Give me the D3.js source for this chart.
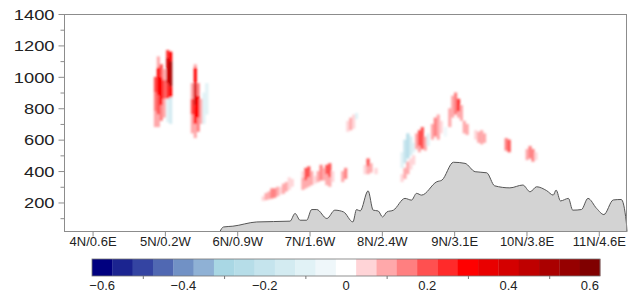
<!DOCTYPE html>
<html>
<head>
<meta charset="utf-8">
<script src="https://cdn.jsdelivr.net/npm/d3@7"></script>
<style>
  body { margin: 0; background: #fff; }
  text { font-family: "Liberation Sans", Arial, sans-serif; fill: #222; }
</style>
</head>
<body>
<svg width="634" height="293"></svg>
<script>
// terrain profile along the section (latitude, height m)
var terrainLat = [5.76, 5.81, 5.94, 6.27, 6.73, 6.80, 6.87, 6.96, 7.03, 7.10, 7.24, 7.35, 7.47, 7.60, 7.65, 7.70,
  7.81, 7.88, 7.95, 8.01, 8.07, 8.16, 8.32, 8.41, 8.48, 8.55, 8.76, 8.83, 8.99, 9.15, 9.29, 9.45, 9.56, 9.77,
  9.95, 10.05, 10.14, 10.28, 10.37, 10.41, 10.47, 10.58, 10.64, 10.76, 10.85, 10.97, 11.07, 11.20, 11.31, 11.38, 11.39];
var terrainAlt = [14, 44, 49, 76, 81, 130, 87, 87, 155, 155, 98, 151, 140, 76, 155, 146,
  274, 151, 146, 108, 140, 151, 226, 215, 258, 247, 332, 342, 456, 449, 396, 389, 306, 293,
  311, 268, 300, 275, 247, 279, 210, 226, 151, 155, 226, 162, 123, 216, 219, 76, 14];

// x tick labels (latitude / longitude along the section)
var tickLat = [4, 5, 6, 7, 8, 9, 10, 11];
var tickNames = ["4N/0.6E", "5N/0.2W", "6N/0.9W", "7N/1.6W", "8N/2.4W", "9N/3.1E", "10N/3.8E", "11N/4.6E"];

// colour levels, 25 bins of 0.05 from -0.625 to 0.625
var levelColors = ["#00007f", "#1b2490", "#3444a2", "#5068b2", "#7191c5", "#8fb1d5", "#a9d7e4", "#b6dde8",
  "#c5e4ed", "#d3ebf1", "#e1f2f6", "#eff7fa", "#ffffff", "#ffd4d7", "#ffa8aa", "#ff7f80", "#ff5050",
  "#ff2a2a", "#ff0000", "#e90000", "#d40000", "#bf0000", "#aa0000", "#960000", "#800000"];
var cbLabels = [-0.6, -0.4, -0.2, 0, 0.2, 0.4, 0.6];

// field cells: [latitude, alt bottom, alt top, value]
var cellsWest = [
  [4.87, 680, 780, 0.08], [4.87, 780, 900, 0.15], [4.87, 900, 1000, 0.2],
  [4.91, 680, 760, 0.1], [4.91, 760, 880, 0.22], [4.91, 880, 1060, 0.3], [4.91, 1060, 1130, 0.12],
  [4.95, 720, 820, 0.15], [4.95, 820, 1000, 0.3], [4.95, 1000, 1080, 0.22],
  [4.99, 740, 860, 0.1], [4.99, 860, 980, 0.18], [4.99, 980, 1050, 0.12],
  [5.04, 710, 860, -0.12], [5.04, 860, 960, 0.25], [5.04, 960, 1120, 0.42], [5.04, 1120, 1170, 0.25],
  [5.08, 700, 870, -0.14], [5.08, 870, 940, 0.28], [5.08, 940, 1100, 0.48], [5.08, 1100, 1160, 0.3],
  [5.38, 640, 760, 0.08], [5.38, 760, 860, 0.18], [5.38, 860, 960, 0.12],
  [5.42, 610, 700, 0.1], [5.42, 700, 820, 0.3], [5.42, 820, 960, 0.38], [5.42, 960, 1060, 0.32], [5.42, 1060, 1080, 0.12],
  [5.46, 650, 740, 0.15], [5.46, 740, 880, 0.28], [5.46, 880, 960, 0.16],
  [5.50, 700, 860, 0.08],
  [5.54, 700, 900, -0.12], [5.58, 760, 960, -0.1]
];
var cellsMid = [
  [6.36, 210, 240, 0.07], [6.40, 215, 260, 0.09], [6.44, 220, 270, 0.12], [6.48, 225, 290, 0.14],
  [6.52, 230, 290, 0.13], [6.56, 240, 300, 0.09], [6.60, 250, 300, 0.07], [6.64, 255, 320, 0.08],
  [6.68, 270, 330, 0.09], [6.72, 280, 360, 0.07], [6.76, 300, 350, 0.06],
  [6.91, 280, 360, 0.08], [6.91, 360, 400, 0.07],
  [6.95, 290, 340, 0.1], [6.95, 340, 420, 0.2],
  [6.99, 300, 360, 0.12], [6.99, 360, 430, 0.2], [7.03, 310, 400, 0.08],
  [7.08, 320, 370, 0.06], [7.12, 330, 400, 0.1], [7.16, 340, 440, 0.15], [7.20, 340, 420, 0.08],
  [7.24, 310, 380, 0.1], [7.24, 380, 440, 0.18],
  [7.28, 300, 360, 0.09], [7.28, 360, 450, 0.22], [7.32, 330, 400, 0.07],
  [7.46, 330, 400, 0.08], [7.50, 350, 420, 0.16],
  [7.53, 650, 720, 0.07], [7.57, 660, 740, 0.11], [7.61, 670, 760, 0.07], [7.65, 730, 770, -0.08],
  [7.77, 380, 440, 0.07], [7.81, 380, 430, 0.09], [7.81, 430, 480, 0.2], [7.85, 390, 450, 0.1], [7.92, 380, 420, 0.06]
];
var cellsEast = [
  [8.28, 420, 520, -0.12], [8.32, 450, 600, -0.22], [8.36, 480, 640, -0.26], [8.40, 500, 620, -0.15], [8.44, 520, 580, -0.1],
  [8.28, 330, 380, 0.07], [8.32, 350, 420, 0.09], [8.36, 380, 460, 0.09], [8.40, 410, 480, 0.07], [8.44, 440, 500, 0.06],
  [8.48, 540, 640, 0.12], [8.52, 520, 560, 0.08], [8.52, 560, 660, 0.22], [8.56, 540, 680, 0.2], [8.60, 530, 620, 0.1],
  [8.64, 560, 640, -0.08],
  [8.70, 600, 700, 0.08], [8.74, 620, 740, 0.13], [8.78, 600, 760, 0.11], [8.82, 640, 720, 0.07],
  [8.88, 620, 680, -0.07],
  [8.94, 680, 800, 0.08], [8.98, 740, 880, 0.12], [9.02, 760, 900, 0.16], [9.06, 740, 780, 0.12], [9.06, 780, 860, 0.24], [9.10, 720, 820, 0.1],
  [9.14, 640, 720, 0.08], [9.18, 630, 700, 0.1],
  [9.30, 600, 660, 0.07], [9.34, 580, 650, 0.1], [9.38, 570, 660, 0.12], [9.42, 580, 640, 0.08],
  [9.72, 530, 610, 0.13], [9.76, 520, 600, 0.18],
  [10.01, 470, 540, 0.08], [10.05, 480, 560, 0.13], [10.09, 460, 540, 0.15], [10.13, 470, 520, 0.07]
];

var svg = d3.select("svg"),
    margin = {top: 14, right: 7, bottom: 61, left: 64},
    width = +svg.attr("width") - margin.left - margin.right,
    height = +svg.attr("height") - margin.top - margin.bottom;

var x = d3.scaleLinear().domain([3.605, 11.39]).range([margin.left, margin.left + width]);
var y = d3.scaleLinear().domain([12, 1400]).range([margin.top + height, margin.top]);

var colorOf = function(v) {
    var i = Math.floor((v + 0.625) / 0.05);
    return levelColors[Math.max(0, Math.min(24, i))];
};

svg.append("defs").append("filter").attr("id", "soft")
    .attr("x", "-10%").attr("y", "-10%").attr("width", "120%").attr("height", "120%")
    .append("feGaussianBlur").attr("stdDeviation", 0.9);

// shaded field
var half = 0.022;
svg.append("g").attr("filter", "url(#soft)")
    .selectAll("rect")
    .data(cellsWest.concat(cellsMid, cellsEast))
    .enter().append("rect")
    .attr("x", function(d) { return x(d[0] - half); })
    .attr("width", function(d) { return x(d[0] + half) - x(d[0] - half); })
    .attr("y", function(d) { return y(d[2]); })
    .attr("height", function(d) { return y(d[1]) - y(d[2]); })
    .style("fill", function(d) { return colorOf(d[3]); });

// terrain
var terrain = terrainLat.map(function(d, i) { return [d, terrainAlt[i]]; });
svg.append("path").datum(terrain)
    .attr("d", d3.area().x(function(d) { return x(d[0]); }).y0(y(12)).y1(function(d) { return y(d[1]); })
        .curve(d3.curveMonotoneX))
    .style("fill", "#d3d3d3");
svg.append("path").datum(terrain)
    .attr("d", d3.line().x(function(d) { return x(d[0]); }).y(function(d) { return y(d[1]); })
        .curve(d3.curveMonotoneX))
    .style("fill", "none").style("stroke", "#555").style("stroke-width", 1);

// frame
svg.append("rect")
    .attr("x", margin.left + 0.5).attr("y", margin.top + 0.5)
    .attr("width", width - 1).attr("height", height - 1)
    .style("fill", "none").style("stroke", "#8c8c8c");

// y axis
var yAxis = svg.append("g")
    .attr("transform", "translate(" + (margin.left + 0.5) + ",0)")
    .call(d3.axisLeft(y).tickValues(d3.range(100, 1401, 100)).tickSize(6).tickFormat(""));
yAxis.select(".domain").remove();
yAxis.selectAll(".tick line").style("stroke", "#8c8c8c")
    .attr("x2", function(d) { return d % 200 ? -4 : -6; });
yAxis.selectAll(".tick").filter(function(d) { return d % 200 == 0; })
    .append("text")
    .attr("transform", "translate(-10,0) scale(1.22,1)")
    .attr("dy", "0.35em")
    .attr("text-anchor", "end")
    .style("font-size", "15px")
    .text(function(d) { return d; });

// x axis
var xAxis = svg.append("g")
    .attr("transform", "translate(0," + (margin.top + height - 0.5) + ")")
    .call(d3.axisBottom(x).tickValues(tickLat).tickSize(5).tickFormat(""));
xAxis.select(".domain").remove();
xAxis.selectAll(".tick line").style("stroke", "#8c8c8c");
xAxis.selectAll(".tick").append("text")
    .attr("y", 14)
    .attr("text-anchor", "middle")
    .style("font-size", "13px")
    .text(function(d, i) { return tickNames[i]; });

// colour bar
var cb = d3.scaleLinear().domain([-0.625, 0.625]).range([92, 600]);
var cbTop = 259, cbH = 17;
svg.append("g").selectAll("rect")
    .data(levelColors)
    .enter().append("rect")
    .attr("x", function(d, i) { return cb(-0.625 + i * 0.05); })
    .attr("width", cb(0.05) - cb(0) + 0.3)
    .attr("y", cbTop).attr("height", cbH)
    .style("fill", function(d) { return d; });
svg.append("rect")
    .attr("x", cb(-0.625)).attr("y", cbTop).attr("width", cb(0.625) - cb(-0.625)).attr("height", cbH)
    .style("fill", "none").style("stroke", "#777").style("stroke-width", 0.8);
var cbAxis = svg.append("g")
    .attr("transform", "translate(0," + (cbTop + cbH) + ")")
    .call(d3.axisBottom(cb).tickValues([-0.5, -0.3, -0.1, 0.1, 0.3, 0.5]).tickSize(3).tickFormat(""));
cbAxis.select(".domain").remove();
cbAxis.selectAll(".tick line").style("stroke", "#777");
svg.append("g").selectAll("text")
    .data(cbLabels)
    .enter().append("text")
    .attr("x", function(d) { return cb(d); })
    .attr("y", 290)
    .attr("text-anchor", "middle")
    .style("font-size", "13px")
    .text(function(d) { return d == 0 ? "0" : d3.format(".1f")(d).replace("-", "\u2212"); });
</script>
</body>
</html>
